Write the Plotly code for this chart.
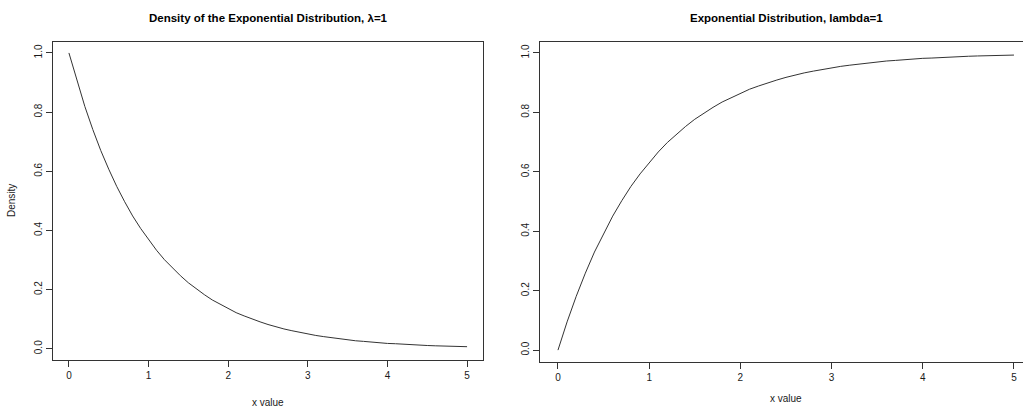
import plotly.graph_objects as go

# x grid and values
x_vals = [0.0, 0.1, 0.2, 0.3, 0.4, 0.5, 0.6, 0.7, 0.8, 0.9,
          1.0, 1.1, 1.2, 1.3, 1.4, 1.5, 1.6, 1.7, 1.8, 1.9,
          2.0, 2.1, 2.2, 2.3, 2.4, 2.5, 2.6, 2.7, 2.8, 2.9,
          3.0, 3.1, 3.2, 3.3, 3.4, 3.5, 3.6, 3.7, 3.8, 3.9,
          4.0, 4.1, 4.2, 4.3, 4.4, 4.5, 4.6, 4.7, 4.8, 4.9, 5.0]

density_vals = [1.000, 0.905, 0.819, 0.741, 0.670, 0.607, 0.549, 0.497, 0.449, 0.407,
                0.368, 0.333, 0.301, 0.273, 0.247, 0.223, 0.202, 0.183, 0.165, 0.150,
                0.135, 0.122, 0.111, 0.100, 0.091, 0.082, 0.074, 0.067, 0.061, 0.055,
                0.050, 0.045, 0.041, 0.037, 0.033, 0.030, 0.027, 0.025, 0.022, 0.020,
                0.018, 0.017, 0.015, 0.014, 0.012, 0.011, 0.010, 0.009, 0.008, 0.007, 0.007]

cdf_vals = [0.000, 0.095, 0.181, 0.259, 0.330, 0.393, 0.451, 0.503, 0.551, 0.593,
            0.632, 0.667, 0.699, 0.727, 0.753, 0.777, 0.798, 0.817, 0.835, 0.850,
            0.865, 0.878, 0.889, 0.900, 0.909, 0.918, 0.926, 0.933, 0.939, 0.945,
            0.950, 0.955, 0.959, 0.963, 0.967, 0.970, 0.973, 0.975, 0.978, 0.980,
            0.982, 0.983, 0.985, 0.986, 0.988, 0.989, 0.990, 0.991, 0.992, 0.993, 0.993]

x_ticks = [0, 1, 2, 3, 4, 5]
y_ticks = [0.0, 0.2, 0.4, 0.6, 0.8, 1.0]
y_tick_text = ["0.0", "0.2", "0.4", "0.6", "0.8", "1.0"]

title_left = "Density of the Exponential Distribution, λ=1"
title_right = "Exponential Distribution, lambda=1"
x_label = "x value"
y_label_left = "Density"

W, H = 1023, 407
FONT = "Liberation Sans, Arial, sans-serif"
LINE = "#333333"
TXT = "#1a1a1a"

def px_x(p):
    return p / W

def px_y(p):
    return 1 - p / H

fig = go.Figure()
fig.add_trace(go.Scatter(x=x_vals, y=density_vals, mode="lines",
                         line=dict(color=LINE, width=1), xaxis="x", yaxis="y",
                         showlegend=False, hoverinfo="skip"))
fig.add_trace(go.Scatter(x=x_vals, y=cdf_vals, mode="lines",
                         line=dict(color=LINE, width=1), xaxis="x2", yaxis="y2",
                         showlegend=False, hoverinfo="skip"))

axis_common = dict(showgrid=False, zeroline=False, showline=True, linecolor=LINE,
                   linewidth=1, mirror=True, ticks="outside", ticklen=6,
                   tickcolor=LINE, tickwidth=1,
                   tickfont=dict(family=FONT, size=10, color=TXT))

fig.update_layout(
    width=W, height=H,
    margin=dict(l=0, r=0, t=0, b=0),
    paper_bgcolor="white", plot_bgcolor="white",
    xaxis=dict(domain=[px_x(53), px_x(483)], range=[-0.2, 5.2],
               tickvals=x_ticks, anchor="y", **axis_common),
    yaxis=dict(domain=[px_y(360), px_y(42)], range=[-0.038, 1.037],
               tickvals=y_ticks, ticktext=y_tick_text, tickangle=-90,
               anchor="x", **axis_common),
    xaxis2=dict(domain=[px_x(540), 1.0], range=[-0.197, 5.099],
                tickvals=x_ticks, anchor="y2", **axis_common),
    yaxis2=dict(domain=[px_y(362), px_y(42)], range=[-0.04, 1.037],
                tickvals=y_ticks, ticktext=y_tick_text, tickangle=-90,
                anchor="x2", **axis_common),
)

ann = []
ann.append(dict(text="<b>" + title_left + "</b>", x=px_x(268), y=px_y(18),
                xref="paper", yref="paper", showarrow=False,
                font=dict(family=FONT, size=11.5, color="#000"),
                xanchor="center", yanchor="middle"))
ann.append(dict(text="<b>" + title_right + "</b>", x=px_x(786), y=px_y(18),
                xref="paper", yref="paper", showarrow=False,
                font=dict(family=FONT, size=11.5, color="#000"),
                xanchor="center", yanchor="middle"))
ann.append(dict(text=x_label, x=px_x(268), y=px_y(402),
                xref="paper", yref="paper", showarrow=False,
                font=dict(family=FONT, size=10, color=TXT),
                xanchor="center", yanchor="middle"))
ann.append(dict(text=x_label, x=px_x(786), y=px_y(406),
                xref="paper", yref="paper", showarrow=False,
                font=dict(family=FONT, size=10, color=TXT),
                xanchor="center", yanchor="bottom"))
ann.append(dict(text=y_label_left, x=px_x(12), y=px_y(201),
                xref="paper", yref="paper", showarrow=False, textangle=-90,
                font=dict(family=FONT, size=10, color=TXT),
                xanchor="center", yanchor="middle"))
fig.update_layout(annotations=ann)

fig.write_html("out.html")
